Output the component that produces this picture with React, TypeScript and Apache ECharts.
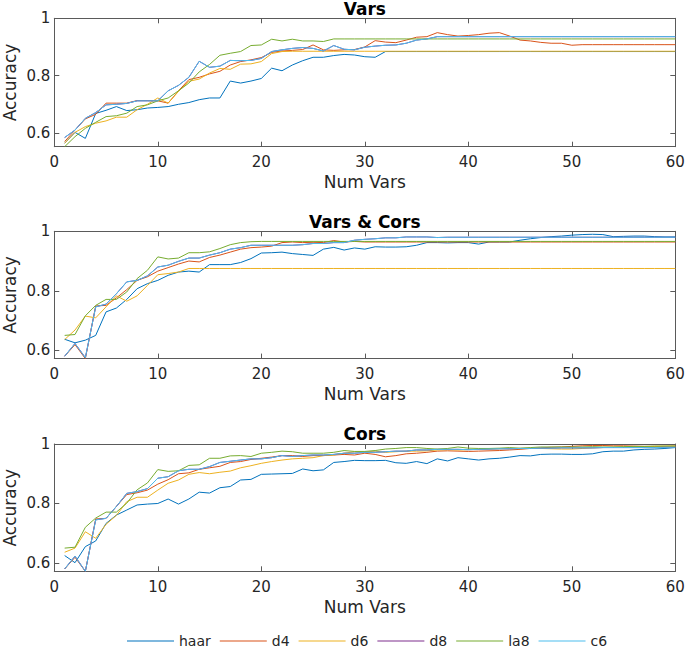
import { useEffect, useRef } from "react";
import * as echarts from "echarts";

// ---------- data ----------
const xVars: number[] = Array.from({ length: 60 }, (_, i) => i + 1);
const seriesNames = ["haar", "d4", "d6", "d8", "la8", "c6"];
const panelTitles = ["Vars", "Vars & Cors", "Cors"];
const xTicks = [0, 10, 20, 30, 40, 50, 60];
const yLabels = [0.6, 0.8, 1];

// Panel 1: Vars
const varsHaar = [
  0.564, 0.602, 0.581, 0.668, 0.679, 0.692, 0.678, 0.681, 0.687, 0.689,
  0.692, 0.7, 0.706, 0.716, 0.722, 0.722, 0.781, 0.774, 0.781, 0.79,
  0.826, 0.817, 0.837, 0.852, 0.864, 0.864, 0.87, 0.874, 0.872, 0.866,
  0.864, 0.884, 0.884, 0.884, 0.884, 0.884, 0.884, 0.884, 0.884, 0.884,
  0.884, 0.884, 0.884, 0.884, 0.884, 0.884, 0.884, 0.884, 0.884, 0.884,
  0.884, 0.884, 0.884, 0.884, 0.884, 0.884, 0.884, 0.884, 0.884, 0.884,
];
const varsD4 = [
  0.57, 0.61, 0.649, 0.665, 0.704, 0.704, 0.704, 0.713, 0.713, 0.712,
  0.704, 0.747, 0.786, 0.794, 0.806, 0.815, 0.837, 0.849, 0.855, 0.863,
  0.881, 0.886, 0.888, 0.891, 0.907, 0.89, 0.888, 0.89, 0.891, 0.9,
  0.922, 0.917, 0.915, 0.924, 0.934, 0.936, 0.95, 0.943, 0.938, 0.94,
  0.943, 0.948, 0.95, 0.938, 0.924, 0.921, 0.916, 0.913, 0.913, 0.906,
  0.908, 0.908, 0.908, 0.908, 0.908, 0.908, 0.908, 0.908, 0.908, 0.908,
];
const varsD6 = [
  0.564, 0.602, 0.622, 0.634, 0.642, 0.655, 0.655, 0.681, 0.7, 0.722,
  0.704, 0.745, 0.78, 0.788, 0.809, 0.825, 0.822, 0.84, 0.841, 0.849,
  0.877, 0.884, 0.885, 0.885, 0.885, 0.885, 0.885, 0.885, 0.885, 0.885,
  0.885, 0.885, 0.885, 0.885, 0.885, 0.885, 0.885, 0.885, 0.885, 0.885,
  0.885, 0.885, 0.885, 0.885, 0.885, 0.885, 0.885, 0.885, 0.885, 0.885,
  0.885, 0.885, 0.885, 0.885, 0.885, 0.885, 0.885, 0.885, 0.885, 0.885,
];
const varsLa8 = [
  0.552, 0.587, 0.616, 0.637, 0.657, 0.66, 0.669, 0.692, 0.698, 0.712,
  0.722, 0.747, 0.774, 0.813, 0.839, 0.871, 0.878, 0.884, 0.905, 0.907,
  0.927, 0.921, 0.927, 0.921, 0.921, 0.919, 0.928, 0.928, 0.928, 0.928,
  0.928, 0.928, 0.928, 0.928, 0.928, 0.928, 0.928, 0.928, 0.928, 0.928,
  0.928, 0.928, 0.928, 0.928, 0.928, 0.928, 0.928, 0.928, 0.928, 0.928,
  0.928, 0.928, 0.928, 0.928, 0.928, 0.928, 0.928, 0.928, 0.928, 0.928,
];
const varsC6 = [
  0.584, 0.61, 0.651, 0.671, 0.698, 0.7, 0.703, 0.712, 0.712, 0.712,
  0.747, 0.766, 0.794, 0.85, 0.829, 0.833, 0.853, 0.852, 0.853, 0.86,
  0.884, 0.89, 0.895, 0.898, 0.895, 0.886, 0.905, 0.892, 0.89, 0.899,
  0.903, 0.906, 0.907, 0.913, 0.924, 0.928, 0.936, 0.936, 0.936, 0.936,
  0.936, 0.936, 0.936, 0.936, 0.936, 0.936, 0.936, 0.936, 0.936, 0.936,
  0.936, 0.936, 0.936, 0.936, 0.936, 0.936, 0.936, 0.936, 0.936, 0.936,
];
// d8 is not visible: it lies under c6
const varsD8 = varsC6;

// Panel 2: Vars & Cors
const bothHaar = [
  0.637, 0.625, 0.634, 0.65, 0.729, 0.742, 0.771, 0.807, 0.824, 0.835,
  0.852, 0.863, 0.866, 0.863, 0.888, 0.888, 0.888, 0.895, 0.908, 0.927,
  0.928, 0.93, 0.925, 0.922, 0.919, 0.94, 0.946, 0.937, 0.944, 0.94,
  0.948, 0.947, 0.947, 0.948, 0.953, 0.962, 0.962, 0.961, 0.962, 0.962,
  0.957, 0.964, 0.964, 0.964, 0.97, 0.975, 0.979, 0.982, 0.984, 0.987,
  0.989, 0.99, 0.989, 0.982, 0.983, 0.984, 0.984, 0.982, 0.981, 0.981,
];
const bothD4 = [
  0.58, 0.619, 0.572, 0.749, 0.751, 0.776, 0.804, 0.835, 0.847, 0.866,
  0.878, 0.89, 0.9, 0.897, 0.912, 0.92, 0.93, 0.94, 0.945, 0.947,
  0.95, 0.962, 0.964, 0.962, 0.963, 0.962, 0.969, 0.964, 0.966, 0.964,
  0.964, 0.964, 0.964, 0.964, 0.964, 0.964, 0.964, 0.964, 0.964, 0.964,
  0.964, 0.964, 0.964, 0.964, 0.964, 0.964, 0.964, 0.964, 0.964, 0.964,
  0.964, 0.964, 0.964, 0.964, 0.964, 0.964, 0.964, 0.964, 0.964, 0.964,
];
const bothD6 = [
  0.636, 0.668, 0.715, 0.709, 0.746, 0.783, 0.765, 0.783, 0.818, 0.854,
  0.858, 0.863, 0.875, 0.875, 0.875, 0.875, 0.875, 0.875, 0.875, 0.875,
  0.875, 0.875, 0.875, 0.875, 0.875, 0.875, 0.875, 0.875, 0.875, 0.875,
  0.875, 0.875, 0.875, 0.875, 0.875, 0.875, 0.875, 0.875, 0.875, 0.875,
  0.875, 0.875, 0.875, 0.875, 0.875, 0.875, 0.875, 0.875, 0.875, 0.875,
  0.875, 0.875, 0.875, 0.875, 0.875, 0.875, 0.875, 0.875, 0.875, 0.875,
];
const bothLa8 = [
  0.65, 0.653, 0.716, 0.751, 0.771, 0.771, 0.796, 0.841, 0.869, 0.914,
  0.907, 0.91, 0.928, 0.928, 0.931, 0.942, 0.955, 0.962, 0.965, 0.966,
  0.966, 0.966, 0.966, 0.966, 0.966, 0.966, 0.966, 0.966, 0.966, 0.966,
  0.966, 0.966, 0.966, 0.966, 0.966, 0.966, 0.966, 0.966, 0.966, 0.966,
  0.966, 0.966, 0.966, 0.966, 0.966, 0.966, 0.966, 0.966, 0.966, 0.966,
  0.966, 0.966, 0.966, 0.966, 0.966, 0.966, 0.966, 0.966, 0.966, 0.966,
];
const bothC6 = [
  0.58, 0.623, 0.575, 0.746, 0.755, 0.79, 0.83, 0.835, 0.85, 0.88,
  0.886, 0.899, 0.91, 0.91, 0.92, 0.928, 0.94, 0.945, 0.953, 0.953,
  0.953, 0.953, 0.953, 0.955, 0.959, 0.959, 0.962, 0.962, 0.97, 0.973,
  0.975, 0.978, 0.978, 0.981, 0.981, 0.981, 0.979, 0.98, 0.98, 0.98,
  0.98, 0.98, 0.98, 0.98, 0.98, 0.98, 0.98, 0.98, 0.98, 0.98,
  0.98, 0.98, 0.98, 0.98, 0.98, 0.98, 0.98, 0.98, 0.98, 0.98,
];
const bothD8 = bothC6;

// Panel 3: Cors
const corsHaar = [
  0.625, 0.601, 0.655, 0.674, 0.733, 0.761, 0.778, 0.795, 0.798, 0.8,
  0.815, 0.798, 0.815, 0.838, 0.835, 0.853, 0.857, 0.879, 0.881, 0.898,
  0.899, 0.9, 0.901, 0.916, 0.91, 0.913, 0.938, 0.941, 0.945, 0.944,
  0.944, 0.945, 0.937, 0.935, 0.941, 0.934, 0.95, 0.943, 0.954, 0.95,
  0.946, 0.95, 0.952, 0.956, 0.961, 0.96, 0.965, 0.966, 0.966, 0.965,
  0.965, 0.967, 0.974, 0.976, 0.976, 0.98, 0.982, 0.983, 0.985, 0.988,
];
const corsD4 = [
  0.58, 0.619, 0.572, 0.748, 0.75, 0.79, 0.83, 0.836, 0.845, 0.865,
  0.88, 0.9, 0.903, 0.915, 0.92, 0.925, 0.938, 0.941, 0.948, 0.952,
  0.956, 0.961, 0.961, 0.958, 0.961, 0.961, 0.963, 0.965, 0.963, 0.969,
  0.965, 0.957, 0.961, 0.967, 0.969, 0.972, 0.976, 0.977, 0.976, 0.975,
  0.976, 0.977, 0.978, 0.98, 0.982, 0.985, 0.987, 0.989, 0.99, 0.992,
  0.994, 0.995, 0.995, 0.994, 0.994, 0.993, 0.992, 0.992, 0.992, 0.993,
];
const corsD6 = [
  0.636, 0.65, 0.705, 0.683, 0.73, 0.76, 0.806, 0.821, 0.821, 0.845,
  0.868, 0.879, 0.898, 0.904, 0.9, 0.905, 0.909, 0.92, 0.927, 0.935,
  0.941, 0.946, 0.95, 0.952, 0.954, 0.961, 0.963, 0.969, 0.974, 0.974,
  0.976, 0.972, 0.974, 0.976, 0.976, 0.977, 0.98, 0.981, 0.98, 0.981,
  0.982, 0.983, 0.984, 0.985, 0.985, 0.986, 0.985, 0.984, 0.983, 0.983,
  0.985, 0.987, 0.988, 0.989, 0.99, 0.991, 0.991, 0.992, 0.993, 0.993,
];
const corsLa8 = [
  0.65, 0.653, 0.72, 0.751, 0.771, 0.771, 0.801, 0.846, 0.869, 0.914,
  0.908, 0.91, 0.928, 0.93, 0.952, 0.952, 0.96, 0.961, 0.958, 0.969,
  0.972, 0.976, 0.974, 0.969, 0.969, 0.969, 0.972, 0.978, 0.975, 0.975,
  0.978, 0.983, 0.985, 0.988, 0.988, 0.985, 0.983, 0.985, 0.99, 0.986,
  0.985, 0.985, 0.986, 0.988, 0.986, 0.988, 0.99, 0.99, 0.99, 0.99,
  0.99, 0.991, 0.99, 0.99, 0.991, 0.992, 0.992, 0.993, 0.993, 0.993,
];
const corsC6 = [
  0.58, 0.623, 0.572, 0.745, 0.75, 0.79, 0.834, 0.84, 0.85, 0.885,
  0.89, 0.91, 0.915, 0.915, 0.924, 0.938, 0.942, 0.946, 0.95, 0.95,
  0.954, 0.961, 0.958, 0.961, 0.963, 0.963, 0.965, 0.969, 0.969, 0.972,
  0.972, 0.974, 0.976, 0.976, 0.98, 0.98, 0.982, 0.982, 0.982, 0.981,
  0.982, 0.983, 0.984, 0.984, 0.985, 0.985, 0.986, 0.986, 0.987, 0.987,
  0.987, 0.987, 0.988, 0.988, 0.988, 0.988, 0.988, 0.988, 0.989, 0.989,
];
const corsD8 = corsC6;

const panelData = [
  [varsHaar, varsD4, varsD6, varsD8, varsLa8, varsC6],
  [bothHaar, bothD4, bothD6, bothD8, bothLa8, bothC6],
  [corsHaar, corsD4, corsD6, corsD8, corsLa8, corsC6],
];
const panelYMin = [0.552, 0.572, 0.572];

// ---------- styling ----------
const COLORS = ["#0072BD", "#D95319", "#EDB120", "#7E2F8E", "#77AC30", "#4DBEEE"];
const FONT = "DejaVu Sans";
const TEXT = "#262626";
const AXIS = "#5a5a5a";
const GRID_LEFT = 54.3;
const GRID_RIGHT = 9.7;
const GRID_TOPS = [18.3, 231.3, 444];
const GRID_HEIGHTS = [128.4, 127.3, 127.3];

function buildOption() {
  const grid: any[] = [];
  const xAxis: any[] = [];
  const yAxis: any[] = [];
  const series: any[] = [];
  const graphic: any[] = [];

  panelData.forEach((group, p) => {
    grid.push({
      left: GRID_LEFT,
      right: GRID_RIGHT,
      top: GRID_TOPS[p],
      height: GRID_HEIGHTS[p],
      containLabel: false,
      outerBoundsMode: "none",
    });
    const axisCommonX = {
      type: "value",
      gridIndex: p,
      min: xTicks[0],
      max: xTicks[xTicks.length - 1],
      interval: 10,
      splitLine: { show: false },
      axisLine: { show: true, onZero: false, lineStyle: { color: AXIS, width: 1 } },
      axisTick: { show: true, inside: true, length: 5, lineStyle: { color: AXIS, width: 1 } },
    };
    xAxis.push({
      ...axisCommonX,
      position: "bottom",
      axisLabel: { show: true, color: TEXT, fontSize: 15, fontFamily: FONT, margin: 8 },
      name: "Num Vars",
      nameLocation: "middle",
      nameGap: 27,
      nameMoveOverlap: false,
      nameTextStyle: { color: TEXT, fontSize: 17, fontFamily: FONT },
    });
    xAxis.push({ ...axisCommonX, position: "top", axisLabel: { show: false } });

    const axisCommonY = {
      type: "value",
      gridIndex: p,
      min: panelYMin[p],
      max: 1,
      splitNumber: 2,
      splitLine: { show: false },
      axisLine: { show: true, onZero: false, lineStyle: { color: AXIS, width: 1 } },
      axisTick: { show: true, inside: true, length: 5, lineStyle: { color: AXIS, width: 1 } },
    };
    yAxis.push({
      ...axisCommonY,
      position: "left",
      axisLabel: {
        show: true,
        color: TEXT,
        fontSize: 15,
        fontFamily: FONT,
        margin: 4,
        showMinLabel: false,
        formatter: (v: number) => {
          const hit = yLabels.find((l) => Math.abs(l - v) < 1e-6);
          return hit === undefined ? "" : String(hit);
        },
      },
      name: "Accuracy",
      nameLocation: "middle",
      nameGap: 36,
      nameMoveOverlap: false,
      nameTextStyle: { color: TEXT, fontSize: 17, fontFamily: FONT },
    });
    yAxis.push({ ...axisCommonY, position: "right", axisLabel: { show: false } });

    group.forEach((values, s) => {
      series.push({
        type: "line",
        name: seriesNames[s],
        xAxisIndex: p * 2,
        yAxisIndex: p * 2,
        data: values.map((v, i) => [xVars[i], v]),
        symbol: "none",
        showSymbol: false,
        color: COLORS[s],
        lineStyle: { color: COLORS[s], width: 1 },
        itemStyle: { color: COLORS[s] },
        silent: true,
      });
    });

    graphic.push({
      type: "text",
      x: GRID_LEFT + (685 - GRID_LEFT - GRID_RIGHT) / 2,
      y: GRID_TOPS[p] - 18.3,
      style: {
        text: panelTitles[p],
        font: `bold 17px "${FONT}"`,
        fill: "#000",
        align: "center",
        verticalAlign: "top",
        textAlign: "center",
        textVerticalAlign: "top",
      },
    });
  });

  return {
    animation: false,
    backgroundColor: "#fff",
    textStyle: { fontFamily: FONT },
    grid,
    xAxis,
    yAxis,
    series,
    graphic,
    legend: {
      data: seriesNames,
      left: 127,
      top: 634,
      icon: "rect",
      itemWidth: 47,
      itemHeight: 1,
      itemGap: 9,
      padding: 0,
      textStyle: { color: TEXT, fontSize: 14, fontFamily: FONT },
      selectedMode: false,
    },
  };
}

export default function App() {
  const ref = useRef<HTMLDivElement>(null);
  useEffect(() => {
    if (!ref.current) return;
    const chart = echarts.init(ref.current, undefined, { renderer: "svg" });
    chart.setOption(buildOption() as any);
    return () => chart.dispose();
  }, []);
  return (
    <div
      ref={ref}
      style={{ position: "absolute", left: 0, top: 0, width: 685, height: 649, background: "#fff" }}
    />
  );
}
